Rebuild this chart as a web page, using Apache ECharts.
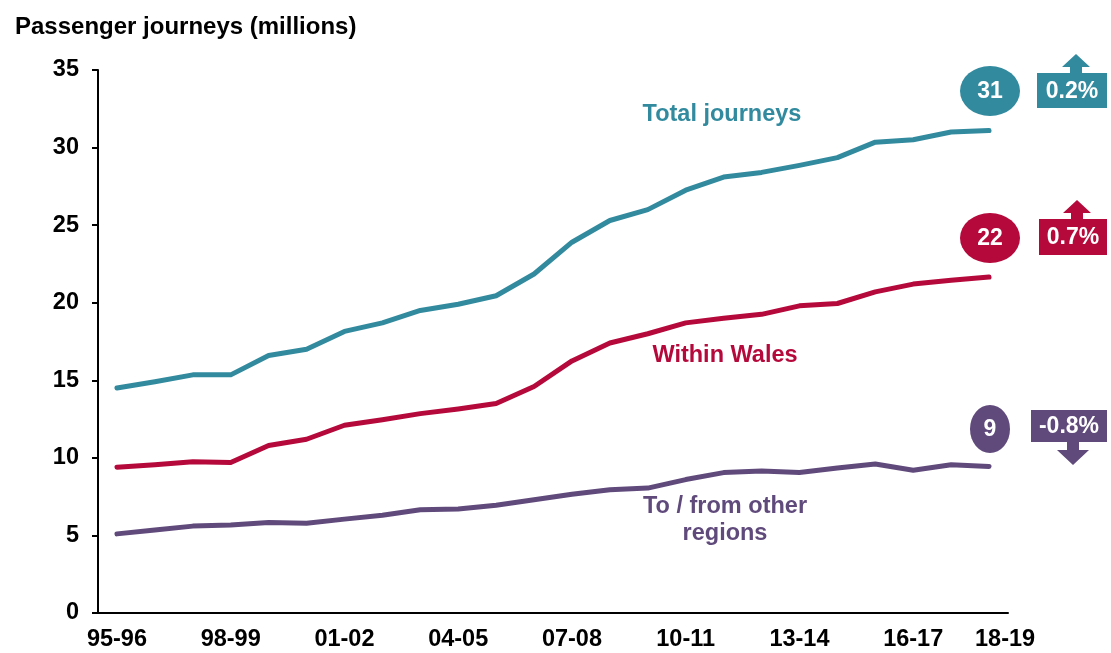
<!DOCTYPE html>
<html>
<head>
<meta charset="utf-8">
<script src="https://cdn.jsdelivr.net/npm/echarts@6/dist/echarts.min.js"></script>
<style>
  html, body { margin: 0; padding: 0; background: #fff; }
  #chart { width: 1111px; height: 653px; }
</style>
</head>
<body>
<div id="chart"></div>
<script>
  // categories (financial years)
  var years = ['95-96', '96-97', '97-98', '98-99', '99-00', '00-01', '01-02', '02-03',
    '03-04', '04-05', '05-06', '06-07', '07-08', '08-09', '09-10', '10-11',
    '11-12', '12-13', '13-14', '14-15', '15-16', '16-17', '17-18', '18-19'];

  // passenger journeys, millions
  var totalJourneys = [14.5, 14.9, 15.35, 15.35, 16.6, 17.0, 18.15, 18.7, 19.5, 19.9, 20.45, 21.85,
    23.9, 25.3, 26.0, 27.25, 28.1, 28.4, 28.85, 29.35, 30.35, 30.5, 31.0, 31.1];
  var withinWales = [9.4, 9.55, 9.75, 9.7, 10.8, 11.2, 12.1, 12.45, 12.85, 13.15, 13.5, 14.6,
    16.25, 17.4, 18.0, 18.7, 19.0, 19.25, 19.8, 19.95, 20.7, 21.2, 21.45, 21.65];
  var otherRegions = [5.1, 5.35, 5.6, 5.67, 5.83, 5.78, 6.05, 6.3, 6.65, 6.7, 6.95, 7.3,
    7.65, 7.95, 8.05, 8.6, 9.05, 9.15, 9.05, 9.35, 9.6, 9.2, 9.55, 9.45];

  // change on previous year
  var changes = ['0.2%', '0.7%', '-0.8%'];

  var teal = '#328a9f', crimson = '#b5093b', purple = '#604a7c';
  var font = 'Liberation Sans, Arial, sans-serif';

  var myChart = echarts.init(document.getElementById('chart'));

  function lineSeries(name, data, color) {
    return {
      name: name,
      type: 'line',
      data: data,
      symbol: 'none',
      smooth: false,
      lineStyle: { color: color, width: 5, cap: 'round', join: 'round' },
      silent: true
    };
  }

  function label(text, x, y, color) {
    return {
      type: 'text', x: x, y: y,
      style: { text: text, fill: color, font: 'bold 23.5px ' + font, align: 'center', verticalAlign: 'middle', lineHeight: 27 }
    };
  }

  function bubble(value, cx, cy, rx, ry, color) {
    return {
      type: 'group',
      children: [
        { type: 'circle', x: cx, y: cy, scaleX: rx / ry, shape: { cx: 0, cy: 0, r: ry }, style: { fill: color } },
        { type: 'text', x: cx, y: cy + 1, style: { text: String(Math.round(value)), fill: '#fff', font: 'bold 23px ' + font, align: 'center', verticalAlign: 'middle' } }
      ]
    };
  }

  // box with up / down arrow
  function changeBox(text, x, y, w, h, up, color) {
    var mx = x + w / 2 + 4;
    var arrow = up
      ? [[mx - 6, y], [mx - 6, y - 6], [mx - 14, y - 6], [mx, y - 19], [mx + 14, y - 6], [mx + 6, y - 6], [mx + 6, y]]
      : [[mx - 6, y + h], [mx - 6, y + h + 8], [mx - 16, y + h + 8], [mx, y + h + 23], [mx + 16, y + h + 8], [mx + 6, y + h + 8], [mx + 6, y + h]];
    return {
      type: 'group',
      children: [
        { type: 'rect', shape: { x: x, y: y, width: w, height: h }, style: { fill: color } },
        { type: 'polygon', shape: { points: arrow }, style: { fill: color } },
        { type: 'text', x: x + w / 2, y: y + h / 2 + 1, style: { text: text, fill: '#fff', font: 'bold 23px ' + font, align: 'center', verticalAlign: 'middle' } }
      ]
    };
  }

  var last = years.length - 1;

  myChart.setOption({
    animation: false,
    textStyle: { fontFamily: font },
    title: {
      text: 'Passenger journeys (millions)',
      left: 10, top: 10,
      textStyle: { fontSize: 24, fontWeight: 'bold', color: '#000', fontFamily: font }
    },
    grid: { left: 98, right: 103, top: 70, bottom: 40 },
    xAxis: {
      type: 'category',
      data: years,
      boundaryGap: true,
      axisLine: { lineStyle: { color: '#000', width: 2 } },
      axisTick: { show: false },
      axisLabel: {
        interval: function (i) { return i % 3 === 0 || i === last; },
        color: '#000', fontSize: 23.5, fontWeight: 'bold', margin: 15,
        formatter: function (v, i) { return i === last ? '{s|' + v + '}' : v; },
        rich: { s: { fontSize: 23.5, fontWeight: 'bold', color: '#000', padding: [0, 0, 0, 32] } }
      },
      splitLine: { show: false }
    },
    yAxis: {
      type: 'value',
      min: 0, max: 35, interval: 5,
      axisLine: { show: true, lineStyle: { color: '#000', width: 2 } },
      axisTick: { show: true, length: 6, lineStyle: { color: '#000', width: 2 } },
      axisLabel: { color: '#000', fontSize: 23.5, fontWeight: 'bold', margin: 19 },
      splitLine: { show: false }
    },
    series: [
      lineSeries('Total journeys', totalJourneys, teal),
      lineSeries('Within Wales', withinWales, crimson),
      lineSeries('To / from other regions', otherRegions, purple)
    ],
    graphic: [
      label('Total journeys', 722, 115, teal),
      label('Within Wales', 725, 356, crimson),
      label('To / from other\nregions', 725, 520, purple),
      bubble(totalJourneys[last], 990, 91, 30, 25, teal),
      bubble(withinWales[last], 990, 238, 30, 25, crimson),
      bubble(otherRegions[last], 990, 429, 20, 24, purple),
      changeBox(changes[0], 1037, 73, 70, 35, true, teal),
      changeBox(changes[1], 1039, 219, 68, 36, true, crimson),
      changeBox(changes[2], 1031, 410, 76, 32, false, purple)
    ]
  });

  window.addEventListener('resize', function () {
    myChart.resize();
  });
</script>
</body>
</html>
